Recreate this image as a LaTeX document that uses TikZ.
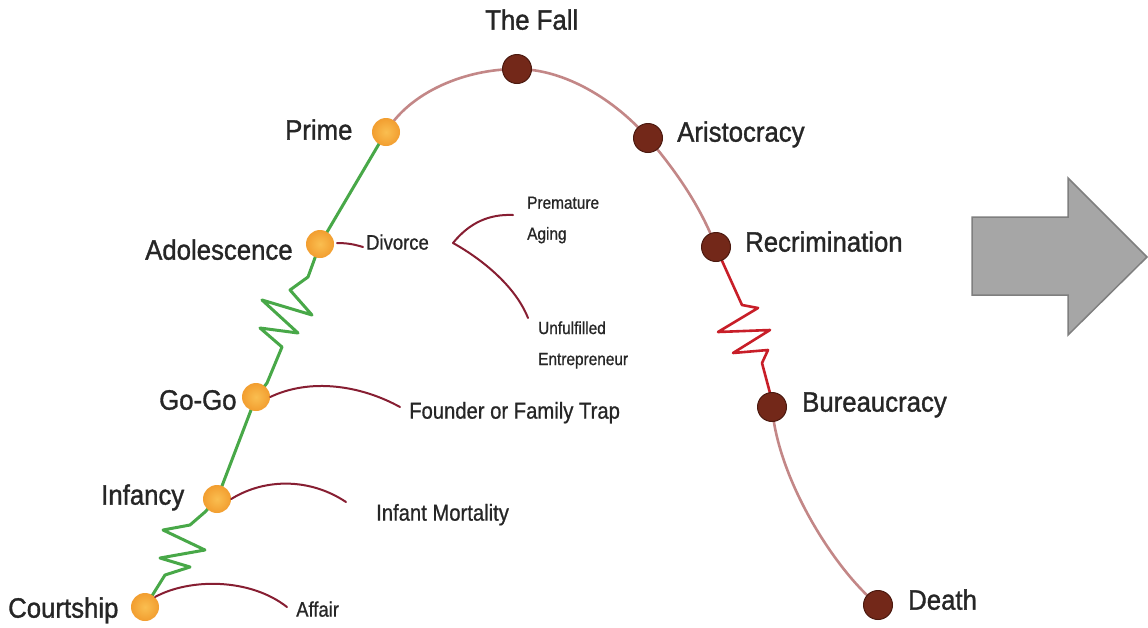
\documentclass[tikz,border=0pt]{standalone}
\usepackage{fontspec}
\setmainfont[FakeStretch=0.92]{Liberation Sans}
\newfontfamily\lblfont[FakeStretch=0.92,FakeBold=1.2]{Liberation Sans}
\newfontfamily\smfont[FakeStretch=0.88,FakeBold=0.8]{Liberation Sans}
\usetikzlibrary{backgrounds}
\pgfdeclarelayer{paper}
\pgfsetlayers{paper,background,main}
\definecolor{grn}{RGB}{72,168,72}
\definecolor{mar}{RGB}{135,30,50}
\definecolor{arcc}{RGB}{195,135,135}
\definecolor{rzz}{RGB}{200,30,40}
\definecolor{brn}{RGB}{115,40,25}
\definecolor{brnd}{RGB}{75,25,15}
\definecolor{orgl}{RGB}{250,190,80}
\definecolor{orgd}{RGB}{242,158,48}
\definecolor{txt}{RGB}{38,38,38}
\definecolor{arrf}{RGB}{166,166,166}
\definecolor{arrd}{RGB}{127,127,127}
\begin{document}
\begin{tikzpicture}[x=1pt,y=-1pt,
  odot/.style={circle,minimum size=28pt,inner sep=0pt,shade,inner color=orgl,outer color=orgd},
  bdot/.style={circle,minimum size=29pt,inner sep=0pt,fill=brn,draw=brnd,line width=1pt},
  big/.style={inner sep=0pt,text=txt,font=\lblfont\fontsize{28}{30}\selectfont},
  sml/.style={inner sep=0pt,text=txt,font=\smfont\fontsize{21}{24}\selectfont},
  mid/.style={inner sep=0pt,text=txt,font=\smfont\fontsize{23}{26}\selectfont},
  tny/.style={inner sep=0pt,text=txt,align=left,font=\smfont\fontsize{17.5}{31}\selectfont},
  gline/.style={draw=grn,line width=3pt,line join=round},
  rline/.style={draw=rzz,line width=2.6pt,line join=round},
  aline/.style={draw=arcc,line width=2.6pt},
  mline/.style={draw=mar,line width=2pt,line cap=round}]
\useasboundingbox (0,0) rectangle (1148,627);
\begin{pgfonlayer}{paper}
\fill[white] (0,0) rectangle (1148,627);
\end{pgfonlayer}

% dots
\node[odot] (court) at (145,607) {};
\node[odot] (infan) at (217,499) {};
\node[odot] (gogo)  at (256,397) {};
\node[odot] (adol)  at (320,244) {};
\node[odot] (prime) at (386,132) {};
\node[bdot] (fall)  at (517,69) {};
\node[bdot] (aris)  at (648,138) {};
\node[bdot] (recr)  at (716,247) {};
\node[bdot] (bur)   at (772,407) {};
\node[bdot] (death) at (878,605) {};

% labels
\node[big,anchor=mid west] (lcourt) at (8,615) {Courtship};
\node[big,anchor=mid west] (linfan) at (101,502) {Infancy};
\node[big,anchor=mid west] (lgogo)  at (159,407) {Go-Go};
\node[big,anchor=mid west] (ladol)  at (145,257) {Adolescence};
\node[big,anchor=mid west] (lprime) at (285,137) {Prime};
\node[big,anchor=mid west] (lfall)  at (485,27) {The Fall};
\node[big,anchor=mid west] (laris)  at (677,139) {Aristocracy};
\node[big,anchor=mid west] (lrecr)  at (745,249) {Recrimination};
\node[big,anchor=mid west] (lbur)   at (802,409) {Bureaucracy};
\node[big,anchor=mid west] (ldeath) at (908,607) {Death};

\node[sml,anchor=mid west] (ldiv) at (366,247) {Divorce};
\node[mid,anchor=mid west] (lfound) at (409,416) {Founder or Family Trap};
\node[mid,anchor=mid west] (linfm) at (376,518) {Infant Mortality};
\node[sml,anchor=mid west] (laff) at (296,614) {Affair};
\node[tny,anchor=west] (lprem) at (527,220) {Premature\\Aging};
\node[tny,anchor=west] (lunf) at (538,345) {Unfulfilled\\Entrepreneur};

% side-path coordinates
\coordinate (divs) at (337,243);
\coordinate (dive) at (363,247);
\coordinate (brk) at (453,243);
\coordinate (brku) at (513,215);
\coordinate (brkl) at (528,318);
\coordinate (founde) at (400,407);
\coordinate (infme) at (346,502);
\coordinate (affe) at (287,607);

\begin{pgfonlayer}{background}
  % green growth path
  \draw[gline] (court.center) -- (165,575) -- (190,567) -- (160,558) -- (205,550)
     -- (163,530) -- (190,525) -- (205,512) -- (infan.center);
  \draw[gline] (infan.center) -- (gogo.center);
  \draw[gline] (gogo.center) -- (267,383) -- (282,347) -- (260,328) -- (298,333)
     -- (262,300) -- (312,315) -- (290,290) -- (308,277) -- (adol.center);
  \draw[gline] (adol.center) -- (prime.center);
  % ageing arc
  \draw[aline] (prime.center) .. controls (410,92) and (465,69) .. (fall.center)
     .. controls (565,69) and (615,100) .. (aris.center)
     .. controls (675,170) and (700,205) .. (recr.center);
  \draw[rline] (recr.center) -- (723,263) -- (742,305) -- (758,308) -- (718,332)
     -- (770,330) -- (733,353) -- (768,350) -- (762,363) -- (770,393) -- (bur.center);
  \draw[aline] (bur.center) .. controls (778,480) and (835,570) .. (death.center);
\end{pgfonlayer}

% traps
\draw[mline] (divs) to[bend left=8] (dive);
\draw[mline] (brk) .. controls (470,222) and (490,214) .. (brku);
\draw[mline] (brk) .. controls (480,258) and (515,285) .. (brkl);
\draw[mline] (gogo.east) .. controls (310,378) and (360,385) .. (founde);
\draw[mline] (infan.east) .. controls (265,478) and (310,478) .. (infme);
\draw[mline] (court.north east) .. controls (190,578) and (250,578) .. (affe);

% big arrow
\draw[fill=arrf,draw=arrd,line width=1.5pt,line join=miter]
  (972,217) -- (1068,217) -- (1068,178) -- (1147,257) -- (1068,335) -- (1068,295) -- (972,295) -- cycle;
\end{tikzpicture}
\end{document}
